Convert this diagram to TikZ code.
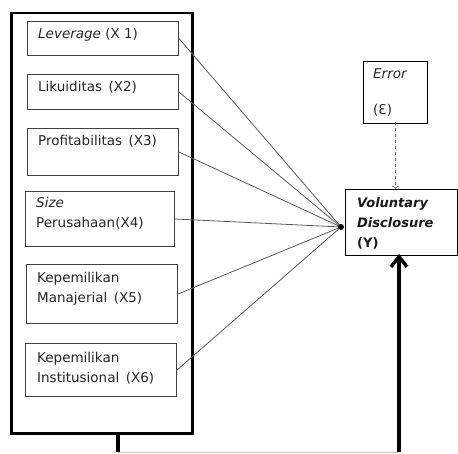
\documentclass[tikz,border=0pt]{standalone}
\usepackage{fontspec}
\setmainfont{DejaVu Sans}
\usetikzlibrary{arrows.meta}
\begin{document}
\begin{tikzpicture}[x=1pt,y=-1pt,every node/.style={font=\fontsize{13.5}{20}\selectfont},
  varbox/.style={draw=black!75,line width=1pt,anchor=north west,inner sep=0pt},
  vartext/.style={anchor=base west,align=left,inner sep=0pt,text=black!85},
  link/.style={draw=black!65,line width=0.8pt}]
\useasboundingbox (0,0) rectangle (458,454);
\node[draw,line width=2.5pt,anchor=north west,inner sep=0pt,minimum width=181pt,minimum height=420pt] (outer) at (10,12) {};
\node[varbox,minimum width=151pt,minimum height=34pt] (x1) at (27,21) {};
\node[vartext] (t1) at ([shift={(11,18)}]x1.north west) {\textit{Leverage} (X 1)};
\node[varbox,minimum width=151pt,minimum height=35pt] (x2) at (27,74) {};
\node[vartext] (t2) at ([shift={(11,18)}]x2.north west) {Likuiditas\ \,(X2)};
\node[varbox,minimum width=151pt,minimum height=47pt] (x3) at (27,128) {};
\node[vartext] (t3) at ([shift={(11,18)}]x3.north west) {Profitabilitas\ \,(X3)};
\node[varbox,minimum width=149pt,minimum height=55pt] (x4) at (25,191) {};
\node[vartext] (t4) at ([shift={(11,37)}]x4.north west) {\textit{Size}\\Perusahaan(X4)};
\node[varbox,minimum width=151pt,minimum height=59pt] (x5) at (26,264) {};
\node[vartext] (t5) at ([shift={(11,39)}]x5.north west) {Kepemilikan\\Manajerial\ \,(X5)};
\node[varbox,minimum width=151pt,minimum height=53pt] (x6) at (25,343) {};
\node[vartext] (t6) at ([shift={(12,39)}]x6.north west) {Kepemilikan\\Institusional\ \,(X6)};
\node[varbox,draw=black,minimum width=112pt,minimum height=66pt] (y) at (345,189) {};
\node[vartext,font=\fontsize{13}{20}\selectfont,text=black!90] (ty) at ([shift={(12,59)}]y.north west) {\textbf{\textit{Voluntary}}\\\textbf{\textit{Disclosure}}\\\textbf{(Y)}};
\node[varbox,draw=black,minimum width=64pt,minimum height=62pt] (err) at (363,61) {};
\node[vartext] (te) at ([shift={(10,54)}]err.north west) {\textit{Error}\\[16pt](Ɛ)};
\coordinate (hub) at (341,227);
\foreach \i in {1,...,6} \draw[link] (x\i.east) -- (hub);
\fill (hub) circle (3pt);
\draw[dashed,->,black!60,line width=0.8pt] ([yshift=2pt]err.south) -- (err.south |- y.north);
\coordinate (b1) at (118,452);
\coordinate (b2) at (399,452);
\draw[line width=3.5pt] (outer.south -| b1) -- (b1);
\draw[black!25,line width=1pt] (b1) -- (b2);
\draw[line width=3.5pt,-{Straight Barb[length=10pt,width=16pt]}] (b2) -- ([yshift=2pt]b2 |- y.south);
\end{tikzpicture}
\end{document}
